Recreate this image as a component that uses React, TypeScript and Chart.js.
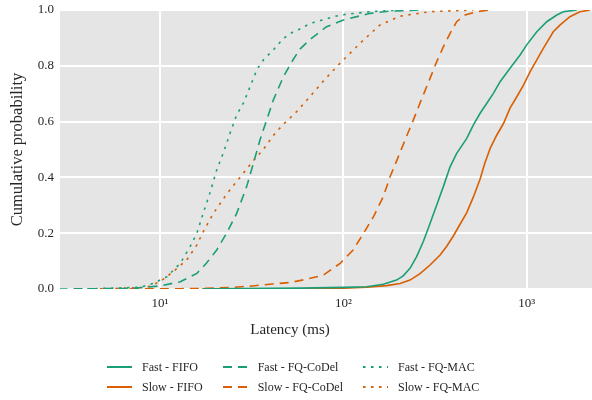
import React, { useEffect, useRef } from "react";
import { Chart, registerables } from "chart.js";

Chart.register(...registerables);

// ---- data (latency in ms, cumulative probability) ----
const fastFifoLatency = [17, 20, 58, 100, 134, 165, 195, 212, 231, 251, 273, 297, 323, 351, 382, 415, 433, 471, 512, 557, 606, 658, 716, 811, 920, 1000, 1135, 1286, 1459, 1585, 1876];
const fastFifoProb = [0, 0.001, 0.003, 0.006, 0.008, 0.017, 0.032, 0.047, 0.074, 0.116, 0.17, 0.235, 0.301, 0.367, 0.438, 0.486, 0.504, 0.54, 0.588, 0.63, 0.666, 0.701, 0.743, 0.791, 0.839, 0.875, 0.922, 0.958, 0.982, 0.994, 1.0];

const slowFifoLatency = [17, 20, 60, 100, 134, 172, 204, 231, 262, 297, 337, 367, 398, 433, 471, 512, 557, 590, 632, 687, 748, 811, 883, 960, 1044, 1135, 1234, 1396, 1517, 1720, 1950, 2215];
const slowFifoProb = [0, 0.0005, 0.001, 0.003, 0.006, 0.012, 0.02, 0.032, 0.055, 0.086, 0.122, 0.154, 0.19, 0.232, 0.274, 0.33, 0.394, 0.45, 0.504, 0.552, 0.594, 0.648, 0.689, 0.731, 0.779, 0.821, 0.863, 0.922, 0.946, 0.976, 0.994, 1.0];

const fastCodelLatency = [2.8, 7, 10, 12.9, 15.9, 17.9, 20.4, 23.1, 26.2, 29.7, 32.3, 35.1, 38.2, 41.5, 47.1, 53, 58, 66, 81, 100, 140, 180, 260];
const fastCodelProb = [0, 0.002, 0.011, 0.026, 0.056, 0.092, 0.14, 0.2, 0.271, 0.367, 0.45, 0.534, 0.606, 0.677, 0.761, 0.82, 0.86, 0.895, 0.94, 0.964, 0.988, 0.996, 1.0];

const slowCodelLatency = [4.7, 13, 18, 25, 32, 41, 51, 63, 78, 96, 113, 129, 146, 165, 180, 196, 217, 241, 268, 297, 323, 351, 382, 415, 461, 534, 631];
const slowCodelProb = [0, 0.001, 0.0025, 0.006, 0.011, 0.018, 0.023, 0.035, 0.05, 0.092, 0.14, 0.2, 0.259, 0.331, 0.403, 0.462, 0.534, 0.606, 0.683, 0.755, 0.815, 0.868, 0.916, 0.958, 0.982, 0.994, 1.0];

const fastMacLatency = [4, 7.8, 9.2, 10.9, 12.9, 14.6, 15.9, 17.2, 18.7, 20.4, 22.1, 24.1, 26.2, 28.5, 31, 33.7, 36.6, 41.5, 47.1, 53.4, 58, 66, 75, 96, 140, 204];
const fastMacProb = [0, 0.006, 0.02, 0.044, 0.092, 0.152, 0.2, 0.271, 0.343, 0.427, 0.486, 0.558, 0.624, 0.666, 0.725, 0.785, 0.821, 0.857, 0.898, 0.922, 0.932, 0.952, 0.962, 0.982, 0.994, 1.0];

const slowMacLatency = [4.7, 8.5, 10, 11.8, 14, 15.9, 17.2, 19.5, 23.1, 27.3, 32.3, 36.6, 41.5, 47, 55.7, 65.8, 77.8, 92, 100, 123, 158, 204, 297, 512];
const slowMacProb = [0, 0.006, 0.026, 0.062, 0.104, 0.158, 0.205, 0.27, 0.34, 0.4, 0.46, 0.5, 0.55, 0.59, 0.636, 0.69, 0.745, 0.797, 0.821, 0.88, 0.946, 0.978, 0.994, 1.0];

const xTickValues = [10, 100, 1000];
const xTickLabels = ["10\u00b9", "10\u00b2", "10\u00b3"];
const yTickValues = [0, 0.2, 0.4, 0.6, 0.8, 1.0];

const GREEN = "#1b9e77";
const ORANGE = "#d95f02";
const FONT = "'Liberation Serif', 'DejaVu Serif', serif";
const TEXT = "#262626";

const DASHED = [9, 6];
const DOTTED = [2.5, 5.5];

const seriesDefs = [
  { label: "Fast - FIFO", lat: fastFifoLatency, prob: fastFifoProb, color: GREEN, dash: [] as number[] },
  { label: "Fast - FQ-CoDel", lat: fastCodelLatency, prob: fastCodelProb, color: GREEN, dash: DASHED },
  { label: "Fast - FQ-MAC", lat: fastMacLatency, prob: fastMacProb, color: GREEN, dash: DOTTED },
  { label: "Slow - FIFO", lat: slowFifoLatency, prob: slowFifoProb, color: ORANGE, dash: [] as number[] },
  { label: "Slow - FQ-CoDel", lat: slowCodelLatency, prob: slowCodelProb, color: ORANGE, dash: DASHED },
  { label: "Slow - FQ-MAC", lat: slowMacLatency, prob: slowMacProb, color: ORANGE, dash: DOTTED },
];

const plotBg = {
  id: "plotBg",
  beforeDraw(chart: any) {
    const { ctx, chartArea } = chart;
    if (!chartArea) return;
    ctx.save();
    ctx.fillStyle = "#e5e5e5";
    ctx.fillRect(chartArea.left, chartArea.top, chartArea.right - chartArea.left, chartArea.bottom - chartArea.top);
    ctx.restore();
  },
};

export default function App() {
  const ref = useRef<HTMLCanvasElement | null>(null);

  useEffect(() => {
    if (!ref.current) return;
    const chart = new Chart(ref.current, {
      type: "line",
      data: {
        datasets: seriesDefs.map((s) => ({
          label: s.label,
          data: s.lat.map((x, i) => ({ x, y: s.prob[i] })),
          borderColor: s.color,
          backgroundColor: s.color,
          borderWidth: 1.6,
          borderDash: s.dash,
          pointRadius: 0,
          tension: 0,
          fill: false,
        })),
      },
      options: {
        responsive: false,
        animation: false,
        devicePixelRatio: 1,
        layout: { padding: { top: 10, bottom: 81, left: 0, right: 0 } },
        plugins: {
          legend: { display: false },
          tooltip: { enabled: false },
        },
        scales: {
          x: {
            type: "logarithmic",
            min: 2.85,
            max: 2270,
            border: { display: false },
            grid: { color: "#ffffff", lineWidth: 2, drawTicks: false },
            afterBuildTicks: (scale: any) => {
              scale.ticks = xTickValues.map((v) => ({ value: v }));
            },
            afterFit: (scale: any) => {
              scale.height = 30;
              scale.paddingLeft = 0;
              scale.paddingRight = 0;
            },
            ticks: {
              autoSkip: false,
              maxRotation: 0,
              padding: 7,
              color: TEXT,
              font: { family: FONT, size: 13 },
              callback: (v: any) => {
                const i = xTickValues.indexOf(Number(v));
                return i >= 0 ? xTickLabels[i] : "";
              },
            },
            title: { display: false },
          },
          y: {
            type: "linear",
            min: 0,
            max: 1,
            border: { display: false },
            grid: { color: "#ffffff", lineWidth: 2, drawTicks: false },
            afterBuildTicks: (scale: any) => {
              scale.ticks = yTickValues.map((v) => ({ value: v }));
            },
            afterFit: (scale: any) => {
              scale.width = 60;
              scale.paddingTop = 0;
              scale.paddingBottom = 0;
            },
            ticks: {
              padding: 6,
              color: TEXT,
              font: { family: FONT, size: 13 },
              callback: (v: any) => Number(v).toFixed(1),
            },
            title: {
              display: true,
              text: "Cumulative probability",
              color: TEXT,
              font: { family: FONT, size: 16.5 },
              padding: { top: 8, bottom: 0 },
            },
          },
        },
      },
      plugins: [plotBg],
    });
    return () => chart.destroy();
  }, []);

  const legendItem = (s: (typeof seriesDefs)[number]) => (
    <div key={s.label} style={{ display: "flex", alignItems: "center", height: 20 }}>
      <svg width={25} height={10} style={{ marginRight: 10, flex: "none" }}>
        <line x1={0} y1={5} x2={25} y2={5} stroke={s.color} strokeWidth={2} strokeDasharray={s.dash.length ? s.dash.join(" ") : undefined} />
      </svg>
      <span>{s.label}</span>
    </div>
  );

  return (
    <div style={{ position: "absolute", left: 0, top: 0, width: 592, height: 400, background: "#fff", overflow: "hidden" }}>
      <canvas ref={ref} width={592} height={400} style={{ display: "block", width: 592, height: 400 }} />
      <div
        style={{
          position: "absolute",
          left: 0,
          width: 580,
          top: 319,
          textAlign: "center",
          fontFamily: FONT,
          fontSize: 15,
          color: TEXT,
          lineHeight: "20px",
        }}
      >
        Latency (ms)
      </div>
      <div
        style={{
          position: "absolute",
          left: 107,
          top: 357,
          display: "grid",
          gridTemplateColumns: "auto auto auto",
          columnGap: 20,
          fontFamily: FONT,
          fontSize: 12,
          color: TEXT,
          lineHeight: "20px",
        }}
      >
        {seriesDefs.map(legendItem)}
      </div>
    </div>
  );
}
